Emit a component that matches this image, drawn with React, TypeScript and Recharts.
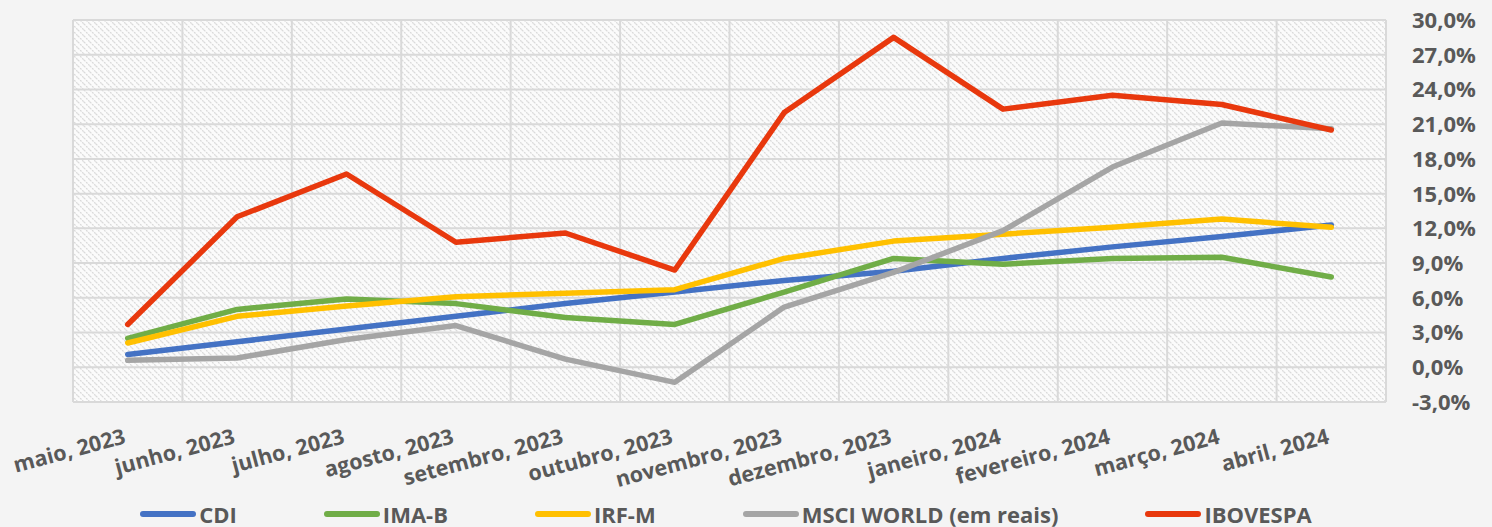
import { LineChart, Line, XAxis, YAxis, CartesianGrid, Legend } from 'recharts';

const months = [
    'maio, 2023', 'junho, 2023', 'julho, 2023', 'agosto, 2023', 'setembro, 2023', 'outubro, 2023',
    'novembro, 2023', 'dezembro, 2023', 'janeiro, 2024', 'fevereiro, 2024', 'março, 2024', 'abril, 2024'
];
const cdi = [1.1, 2.2, 3.3, 4.4, 5.5, 6.5, 7.5, 8.3, 9.4, 10.4, 11.3, 12.3];
const imaB = [2.5, 5.0, 5.9, 5.5, 4.3, 3.7, 6.5, 9.4, 8.9, 9.4, 9.5, 7.8];
const irfM = [2.1, 4.4, 5.3, 6.1, 6.4, 6.7, 9.4, 10.9, 11.5, 12.1, 12.8, 12.1];
const msci = [0.6, 0.8, 2.4, 3.6, 0.7, -1.3, 5.2, 8.2, 11.8, 17.3, 21.1, 20.6];
const ibovespa = [3.7, 13.0, 16.7, 10.8, 11.6, 8.4, 22.0, 28.5, 22.3, 23.5, 22.7, 20.5];
const yTicks = [-3, 0, 3, 6, 9, 12, 15, 18, 21, 24, 27, 30];

const series = [
    { key: 'cdi', name: 'CDI', color: '#4472C4' },
    { key: 'imaB', name: 'IMA-B', color: '#70AD47' },
    { key: 'irfM', name: 'IRF-M', color: '#FFC000' },
    { key: 'msci', name: 'MSCI WORLD (em reais)', color: '#A5A5A5' },
    { key: 'ibovespa', name: 'IBOVESPA', color: '#E8380D' },
];

const data = months.map((month, i) => ({
    month,
    cdi: cdi[i],
    imaB: imaB[i],
    irfM: irfM[i],
    msci: msci[i],
    ibovespa: ibovespa[i],
}));

const FONT = '"Open Sans", "Noto Sans", sans-serif';
const TEXT = '#595959';

function MonthTick({ x, y, payload }: any) {
    const ty = y + 41;
    return (
        <text
            x={x - 1}
            y={ty}
            transform={`rotate(-15, ${x - 1}, ${ty})`}
            textAnchor="end"
            fontFamily={FONT}
            fontWeight={700}
            fontSize={21.5}
            fill={TEXT}
        >
            {payload.value}
        </text>
    );
}

function PercentTick({ x, y, payload }: any) {
    return (
        <text x={x + 26} y={y} dy="0.36em" textAnchor="start" fontFamily={FONT} fontWeight={700} fontSize={22} fill={TEXT}>
            {payload.value.toFixed(1).replace('.', ',')}%
        </text>
    );
}

function LegendContent() {
    return (
        <div style={{ display: 'flex', justifyContent: 'center', gap: 87, height: 28, alignItems: 'center', paddingRight: 40 }}>
            {series.map((s) => (
                <div key={s.key} style={{ display: 'flex', alignItems: 'center' }}>
                    <div style={{ width: 56, height: 5.5, borderRadius: 3, background: s.color, marginRight: 3 }} />
                    <span style={{ fontFamily: FONT, fontWeight: 700, fontSize: 22, color: TEXT, lineHeight: '28px', whiteSpace: 'nowrap' }}>
                        {s.name}
                    </span>
                </div>
            ))}
        </div>
    );
}

export default function App() {
    return (
        <div style={{ position: 'absolute', top: 0, left: 0, width: 1492, height: 527, background: '#f4f4f4' }}>
            <LineChart width={1492} height={527} data={data} margin={{ top: 20, right: 0, left: 73, bottom: 0 }}>
                <defs>
                    <pattern id="hatch" patternUnits="userSpaceOnUse" width={6} height={6}>
                        <rect width={6} height={6} fill="#fbfbfb" />
                        <path d="M0,0 L6,6 M-1,5 L1,7 M5,-1 L7,1" stroke="#d9d9d9" strokeWidth={1.2} strokeDasharray="2 1" />
                    </pattern>
                </defs>
                <CartesianGrid
                    fill="url(#hatch)"
                    stroke="#d9d9d9"
                    strokeWidth={2}
                    verticalCoordinatesGenerator={({ offset }: any) =>
                        months.map((_, i) => offset.left + (i * offset.width) / months.length).concat(offset.left + offset.width)
                    }
                />
                <XAxis
                    dataKey="month"
                    scale="band"
                    interval={0}
                    height={97}
                    axisLine={false}
                    tickLine={false}
                    tickSize={0}
                    tickMargin={0}
                    tick={<MonthTick />}
                />
                <YAxis
                    orientation="right"
                    width={106}
                    domain={[-3, 30]}
                    ticks={yTicks}
                    axisLine={false}
                    tickLine={false}
                    tickSize={0}
                    tickMargin={0}
                    tick={<PercentTick />}
                />
                <Legend
                    verticalAlign="bottom"
                    height={28}
                    content={<LegendContent />}
                    wrapperStyle={{ top: 500, bottom: 'auto', left: 0, width: 1492 }}
                />
                {series.map((s) => (
                    <Line
                        key={s.key}
                        type="linear"
                        dataKey={s.key}
                        name={s.name}
                        stroke={s.color}
                        strokeWidth={5.5}
                        strokeLinecap="round"
                        strokeLinejoin="round"
                        dot={false}
                        activeDot={false}
                        isAnimationActive={false}
                    />
                ))}
            </LineChart>
        </div>
    );
}
